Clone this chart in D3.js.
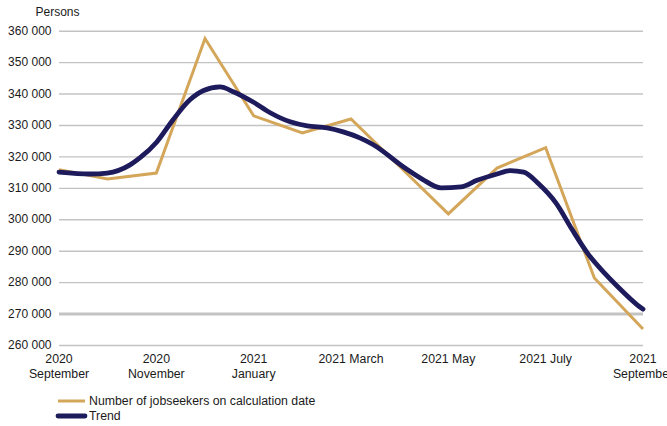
<!DOCTYPE html>
<html>
<head>
<meta charset="utf-8">
<script src="https://cdn.jsdelivr.net/npm/d3@7/dist/d3.min.js"></script>
<style>
  html, body { margin: 0; padding: 0; background: #ffffff; }
  svg { display: block; font-family: "Liberation Sans", Arial, sans-serif; }
</style>
</head>
<body>
<svg id="chart" width="667" height="426"></svg>
<script>
// ---- Data ----
const months = ["2020 September","2020 October","2020 November","2020 December","2021 January","2021 February","2021 March","2021 April","2021 May","2021 June","2021 July","2021 August","2021 September"];
const jobseekers = [315800, 312800, 314700, 357500, 332900, 327500, 331900, 316800, 301700, 316300, 322800, 281300, 265100];
// trend: position in months since 2020 September, and value
const trendPos = [0, 0.64, 0.99, 1.46, 1.66, 2.01, 2.34, 2.69, 2.96, 3.31, 3.58, 3.99, 4.34, 4.75, 5.10, 5.51, 5.84, 6.18, 6.45, 7.11, 7.46, 7.85, 8.26, 8.59, 9.00, 9.27, 9.55, 9.86, 10.21, 10.54, 10.87, 11.22, 11.55, 11.88, 12.0];
const trendValues = [315000, 314400, 314700, 317300, 319500, 324600, 331600, 338000, 340900, 342100, 340600, 337300, 333900, 331000, 329700, 329100, 327800, 325900, 323800, 316300, 312800, 310000, 310300, 312400, 314400, 315500, 315000, 311200, 305200, 296800, 289000, 282700, 277500, 272800, 271400];
const yTicks = [260000, 270000, 280000, 290000, 300000, 310000, 320000, 330000, 340000, 350000, 360000];
const xTickIdx = [0, 2, 4, 6, 8, 10, 12];
const xTickLabels = [["2020","September"],["2020","November"],["2021","January"],["2021 March"],["2021 May"],["2021 July"],["2021","September"]];
const seriesNames = ["Number of jobseekers on calculation date", "Trend"];
const yTitle = "Persons";

// ---- Chart ----
const svg = d3.select("#chart");
const x = d3.scaleLinear().domain([0, months.length - 1]).range([59, 643]);
const y = d3.scaleLinear().domain([260000, 360000]).range([345, 30.7]);
const fmt = d3.formatLocale({decimal: ".", thousands: " ", grouping: [3], currency: ["", ""]}).format(",d");

const colOrange = "#d3a65a";
const colNavy = "#1e1b5c";

// y axis with gridlines
const yAxis = svg.append("g")
  .attr("transform", `translate(${x.range()[0]},0)`)
  .call(d3.axisLeft(y).tickValues(yTicks).tickFormat(fmt).tickSize(-(x.range()[1] - x.range()[0])).tickPadding(7.5));
yAxis.select(".domain").remove();
yAxis.selectAll(".tick line")
  .attr("stroke", "#c3c3c3")
  .attr("stroke-width", d => d === 270000 ? 3 : 1.4);
yAxis.selectAll(".tick text")
  .attr("fill", "#1a1a1a")
  .attr("font-size", 12)
  .attr("dy", "0.3em");

svg.append("text")
  .attr("x", 57.5).attr("y", 16)
  .attr("text-anchor", "middle")
  .attr("font-size", 12)
  .attr("fill", "#1a1a1a")
  .text(yTitle);

// x axis labels
const xg = svg.append("g");
xTickIdx.forEach((idx, i) => {
  const t = xg.append("text")
    .attr("x", x(idx))
    .attr("y", 363)
    .attr("text-anchor", "middle")
    .attr("font-size", 12.3)
    .attr("fill", "#1a1a1a");
  xTickLabels[i].forEach((line, j) => {
    t.append("tspan").attr("x", x(idx)).attr("dy", j === 0 ? 0 : 14.5).text(line);
  });
});

// jobseekers line
svg.append("path")
  .datum(jobseekers)
  .attr("fill", "none")
  .attr("stroke", colOrange)
  .attr("stroke-width", 3)
  .attr("stroke-linejoin", "miter")
  .attr("d", d3.line().x((d, i) => x(i)).y(d => y(d)));

// trend line
svg.append("path")
  .datum(trendValues)
  .attr("fill", "none")
  .attr("stroke", colNavy)
  .attr("stroke-width", 4.8)
  .attr("stroke-linecap", "round")
  .attr("d", d3.line().curve(d3.curveMonotoneX).x((d, i) => x(trendPos[i])).y(d => y(d)));

// legend
const leg = svg.append("g");
const legY = [401, 416];
const legCol = [colOrange, colNavy];
const legW = [3, 4.8];
seriesNames.forEach((name, i) => {
  leg.append("line")
    .attr("x1", 58).attr("x2", 85)
    .attr("y1", legY[i]).attr("y2", legY[i])
    .attr("stroke", legCol[i]).attr("stroke-width", legW[i])
    .attr("stroke-linecap", i === 1 ? "round" : "butt");
  leg.append("text")
    .attr("x", 89).attr("y", legY[i] + 4.3)
    .attr("font-size", 12.3)
    .attr("fill", "#1a1a1a")
    .text(name);
});
</script>
</body>
</html>
